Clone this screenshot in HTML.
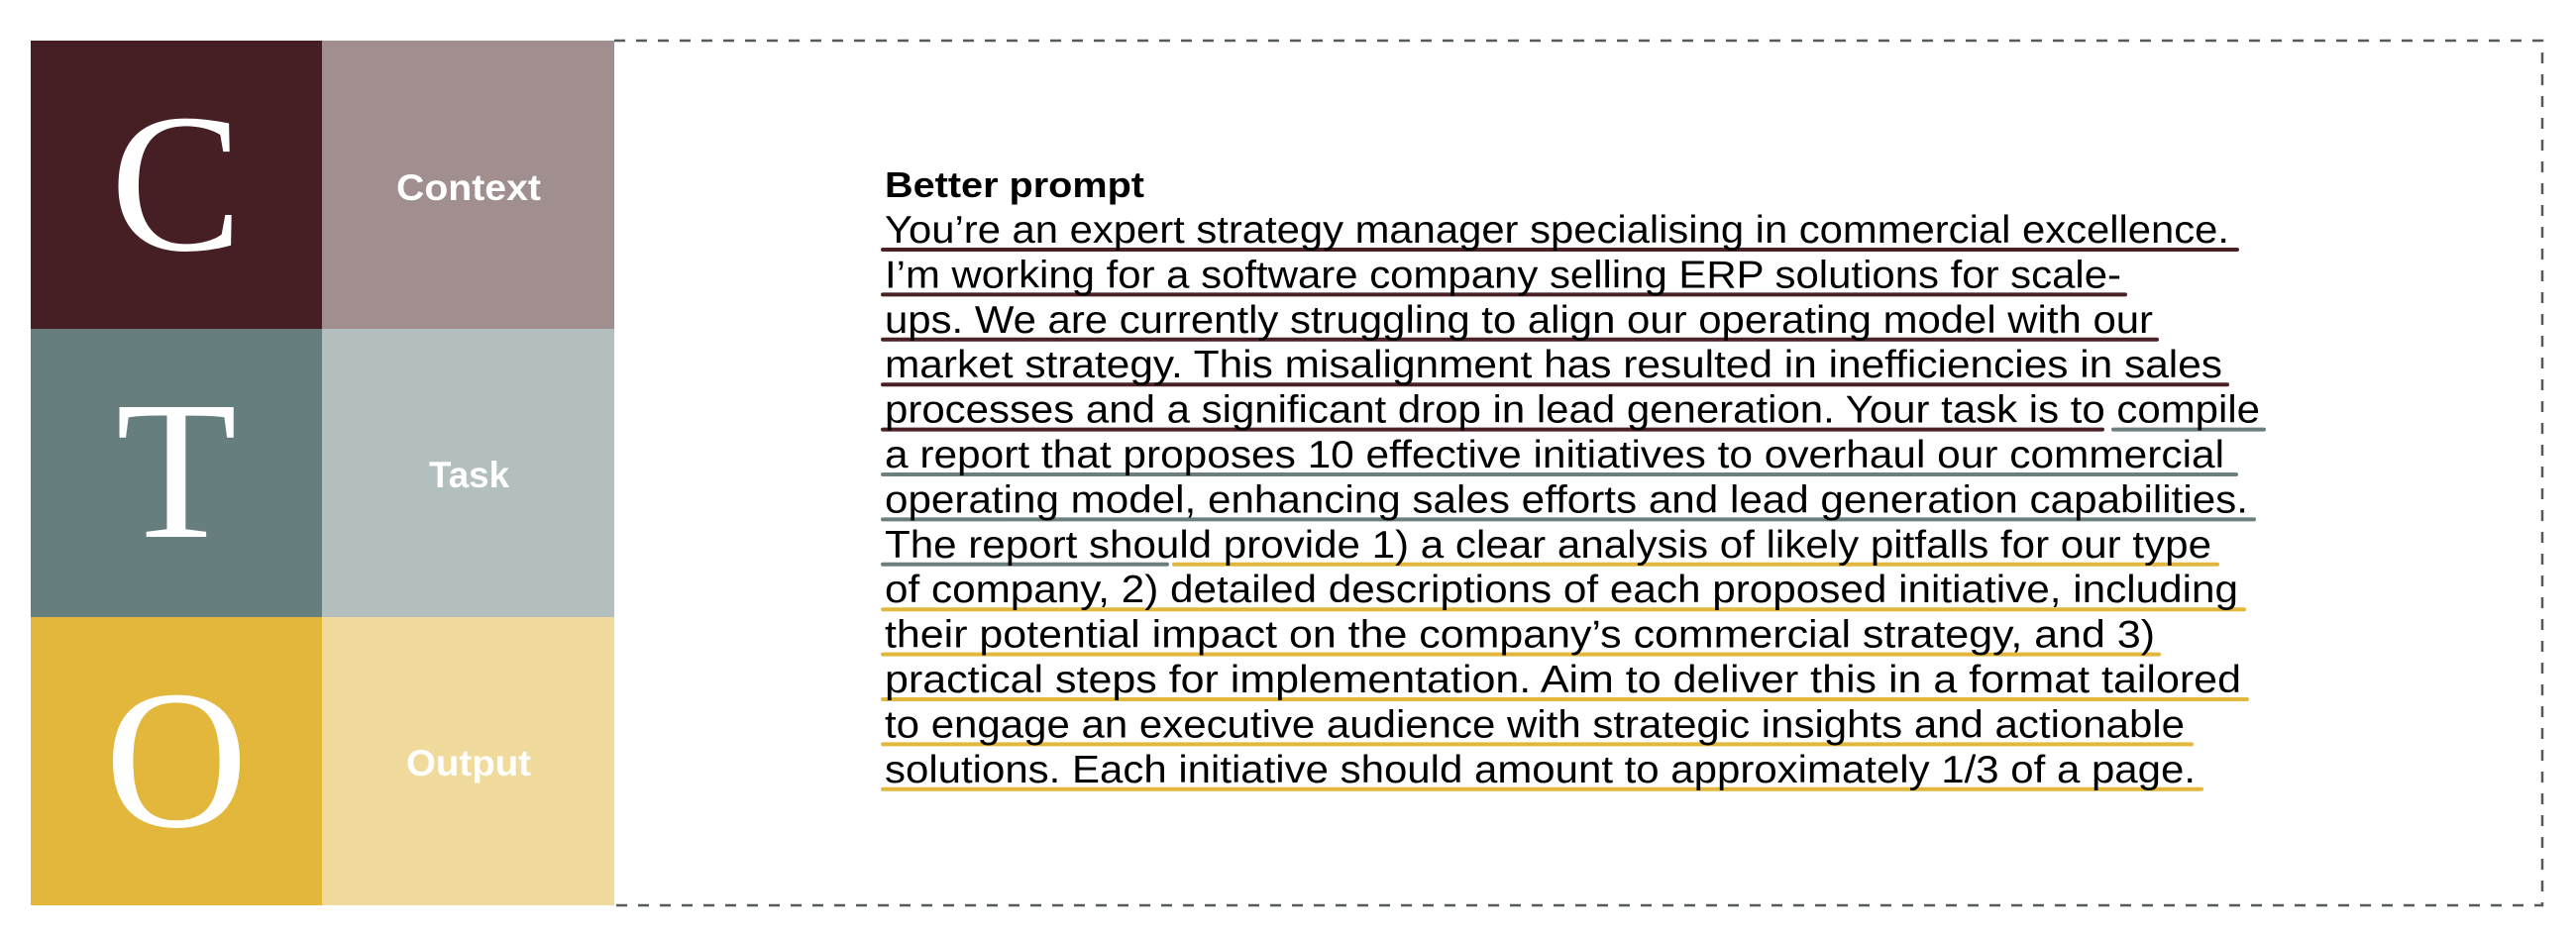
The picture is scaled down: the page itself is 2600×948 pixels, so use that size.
<!DOCTYPE html>
<html><head><meta charset="utf-8"><style>
html,body{margin:0;padding:0;background:#fff;}
svg{display:block;}
</style></head><body>
<svg width="2600" height="948" viewBox="0 0 2600 948" xmlns="http://www.w3.org/2000/svg">
<rect x="31" y="41" width="294" height="291" fill="#461f24"/>
<rect x="325" y="41" width="295" height="291" fill="#a18e8f"/>
<rect x="31" y="332" width="294" height="291" fill="#677e7e"/>
<rect x="325" y="332" width="295" height="291" fill="#b3bfbe"/>
<rect x="31" y="623" width="294" height="291" fill="#e3b63c"/>
<rect x="325" y="623" width="295" height="291" fill="#f0db9d"/>
<g font-family="Liberation Serif, serif" font-size="200" fill="#fff" text-anchor="middle">
<text x="178" y="252">C</text>
<text x="178" y="542">T</text>
<text x="178" y="834">O</text>
</g>
<g font-family="Liberation Sans, sans-serif" font-size="37" font-weight="bold" fill="#fff">
<text x="400" y="202" textLength="146" lengthAdjust="spacingAndGlyphs">Context</text>
<text x="433" y="492" textLength="81" lengthAdjust="spacingAndGlyphs">Task</text>
<text x="410" y="783" textLength="126" lengthAdjust="spacingAndGlyphs">Output</text>
</g>
<path d="M620 41 H2566 V914 H620" fill="none" stroke="#555a5e" stroke-width="2.5" stroke-dasharray="11 11"/>
<text x="893" y="199" font-family="Liberation Sans, sans-serif" font-size="36" font-weight="bold" fill="#000" textLength="262" lengthAdjust="spacingAndGlyphs">Better prompt</text>
<g stroke-width="4" stroke-linecap="round">
<line x1="891" y1="252" x2="2258" y2="252" stroke="#4a2226"/>
<line x1="891" y1="297.4" x2="2145" y2="297.4" stroke="#4a2226"/>
<line x1="891" y1="342.8" x2="2177" y2="342.8" stroke="#4a2226"/>
<line x1="891" y1="388.2" x2="2248" y2="388.2" stroke="#4a2226"/>
<line x1="891" y1="433.6" x2="2122" y2="433.6" stroke="#4a2226"/>
<line x1="2133" y1="433.6" x2="2285" y2="433.6" stroke="#6b7f7e"/>
<line x1="891" y1="479" x2="2257" y2="479" stroke="#6b7f7e"/>
<line x1="891" y1="524.4" x2="2275" y2="524.4" stroke="#6b7f7e"/>
<line x1="891" y1="569.8" x2="1178" y2="569.8" stroke="#6b7f7e"/>
<line x1="1185" y1="569.8" x2="2238" y2="569.8" stroke="#e3b63c"/>
<line x1="891" y1="615.2" x2="2265" y2="615.2" stroke="#e3b63c"/>
<line x1="891" y1="660.6" x2="2179" y2="660.6" stroke="#e3b63c"/>
<line x1="891" y1="706" x2="2268" y2="706" stroke="#e3b63c"/>
<line x1="891" y1="751.4" x2="2212" y2="751.4" stroke="#e3b63c"/>
<line x1="891" y1="796.8" x2="2222" y2="796.8" stroke="#e3b63c"/>
</g>
<g font-family="Liberation Sans, sans-serif" font-size="39" fill="#000">
<text x="893" y="245" textLength="1357" lengthAdjust="spacingAndGlyphs">You’re an expert strategy manager specialising in commercial excellence.</text>
<text x="893" y="290.4" textLength="1248" lengthAdjust="spacingAndGlyphs">I’m working for a software company selling ERP solutions for scale-</text>
<text x="893" y="335.8" textLength="1280" lengthAdjust="spacingAndGlyphs">ups. We are currently struggling to align our operating model with our</text>
<text x="893" y="381.2" textLength="1350" lengthAdjust="spacingAndGlyphs">market strategy. This misalignment has resulted in inefficiencies in sales</text>
<text x="893" y="426.6" textLength="1388" lengthAdjust="spacingAndGlyphs">processes and a significant drop in lead generation. Your task is to compile</text>
<text x="893" y="472" textLength="1352" lengthAdjust="spacingAndGlyphs">a report that proposes 10 effective initiatives to overhaul our commercial</text>
<text x="893" y="517.4" textLength="1376" lengthAdjust="spacingAndGlyphs">operating model, enhancing sales efforts and lead generation capabilities.</text>
<text x="893" y="562.8" textLength="1339" lengthAdjust="spacingAndGlyphs">The report should provide 1) a clear analysis of likely pitfalls for our type</text>
<text x="893" y="608.2" textLength="1366" lengthAdjust="spacingAndGlyphs">of company, 2) detailed descriptions of each proposed initiative, including</text>
<text x="893" y="653.6" textLength="1282" lengthAdjust="spacingAndGlyphs">their potential impact on the company’s commercial strategy, and 3)</text>
<text x="893" y="699" textLength="1369" lengthAdjust="spacingAndGlyphs">practical steps for implementation. Aim to deliver this in a format tailored</text>
<text x="893" y="744.4" textLength="1312" lengthAdjust="spacingAndGlyphs">to engage an executive audience with strategic insights and actionable</text>
<text x="893" y="789.8" textLength="1323" lengthAdjust="spacingAndGlyphs">solutions. Each initiative should amount to approximately 1/3 of a page.</text>
</g>
</svg>
</body></html>
